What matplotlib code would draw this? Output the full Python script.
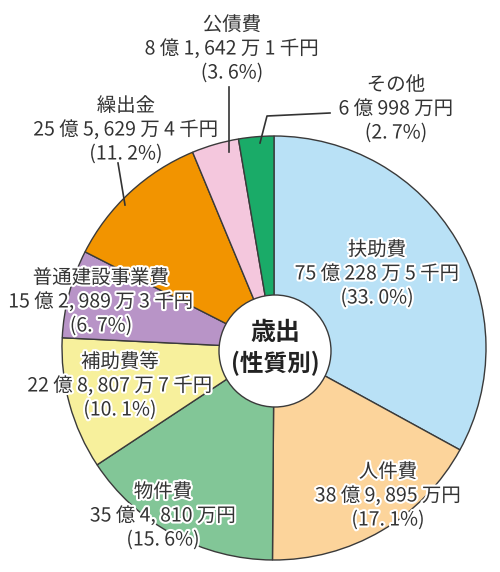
import matplotlib
matplotlib.use("Agg")
import matplotlib.pyplot as plt
import matplotlib.patheffects as pe

plt.rcParams['font.family'] = ['Noto Sans CJK JP', 'DejaVu Sans']

# data (千円)
names = ["扶助費", "人件費", "物件費", "補助費等", "普通建設事業費", "繰出金", "公債費", "その他"]
values = [7502285, 3898950, 3548100, 2288077, 1529893, 2556294, 816421, 609980]
amounts = ["75 億 228 万 5 千円", "38 億 9, 895 万円", "35 億 4, 810 万円", "22 億 8, 807 万 7 千円",
           "15 億 2, 989 万 3 千円", "25 億 5, 629 万 4 千円", "8 億 1, 642 万 1 千円", "6 億 998 万円"]
pcts = ["(33. 0%)", "(17. 1%)", "(15. 6%)", "(10. 1%)", "(6. 7%)", "(11. 2%)", "(3. 6%)", "(2. 7%)"]
colors = ["#b9e1f6", "#fcd49b", "#82c697", "#f7f09c", "#b894c7", "#f29400", "#f4c7dd", "#1aab68"]

W, H = 500, 572
fig = plt.figure(figsize=(W / 100, H / 100), dpi=100)
ax = fig.add_axes([0, 0, 1, 1])

def Y(py):
    return H - py

cx, cy, r = 274, 348, 212
ax.pie(values, colors=colors, startangle=90, counterclock=False,
       center=(cx, Y(cy)), radius=r, frame=True,
       wedgeprops=dict(edgecolor="#3a3a3a", linewidth=1.0))
ax.set_xlim(0, W)
ax.set_ylim(0, H)
ax.set_aspect("equal")
ax.axis("off")

# white hub
hub = plt.Circle((cx + 1, Y(351)), 56, facecolor="white", edgecolor="#3a3a3a", lw=1.0, zorder=5)
ax.add_patch(hub)

stroke = [pe.withStroke(linewidth=3, foreground="white")]
txtc = "#333333"
fs = 14

# label positions (x, y of first line)
pos = {
    "扶助費": (377, 250),
    "人件費": (388, 472),
    "物件費": (163, 492),
    "補助費等": (120, 362),
    "普通建設事業費": (101, 278),
    "繰出金": (126, 106),
    "公債費": (232, 25),
    "その他": (396, 85),
}
for n, a, p in zip(names, amounts, pcts):
    x, y = pos[n]
    for i, s in enumerate([n, a, p]):
        ax.text(x, Y(y + i * 24), s, ha="center", va="center", fontsize=fs,
                color=txtc, path_effects=stroke, zorder=10)

# leader lines
lc = "#333333"
ax.plot([229, 229], [Y(87), Y(152)], color=lc, lw=1.2, zorder=6)
ax.plot([260, 267, 330], [Y(143), Y(116), Y(113)], color=lc, lw=1.2, zorder=6)
ax.plot([118, 125], [Y(163), Y(205)], color=lc, lw=1.2, zorder=6)

# centre title
ax.text(cx + 1, Y(333), "歳出", ha="center", va="center", fontsize=18,
        fontweight="bold", color="#222222", zorder=11)
ax.text(cx + 1, Y(363), "(性質別)", ha="center", va="center", fontsize=17,
        fontweight="bold", color="#222222", zorder=11)

fig.savefig("out.png", dpi=100, facecolor="white")
